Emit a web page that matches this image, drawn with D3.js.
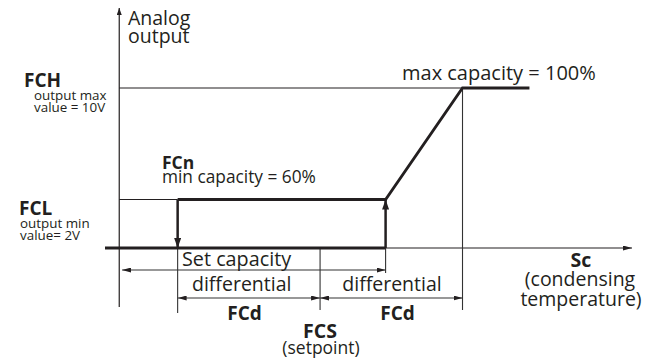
<!DOCTYPE html>
<html><head><meta charset="utf-8">
<script src="https://cdn.jsdelivr.net/npm/d3@7"></script>
<style>
html,body{margin:0;padding:0;background:#fff;}
text{font-family:"Open Sans",sans-serif;fill:#231f20;}
.b{font-weight:700;}
</style>
</head><body>
<svg id="c" width="656" height="364"></svg>
<script>
// ---- data (temperature in units of FCd relative to FCS, output in volts) ----
const keyNames = ["FCS-FCd", "FCS", "FCS+FCd"];
const keyT = [-1, 0, 1];
const switchOnT = 0.46;             // where output jumps up to FCL
const upperT = [-1, 0.46, 1, 1.47];  // upper branch (min capacity -> ramp -> max)
const upperV = [2, 2, 10, 10];
const lowerT = [-1.51, 0.46];        // lower (off) branch
const lowerV = [0, 0];
const levelNames = ["0", "FCL", "FCH"];
const levelV = [0, 2, 10];
const levelCapacity = ["", "min capacity = 60%", "max capacity = 100%"];

const ink = "#231f20", thin = "#333";
const svg = d3.select("#c");
const x = d3.scaleLinear().domain([-1.51, 2.19]).range([105, 632]);
const y = d3.scaleLinear().domain(levelV).range([248, 199.5, 88]);

const defs = svg.append("defs");
function marker(id, len, wid) {
  defs.append("marker").attr("id", id).attr("viewBox", `0 0 ${len} ${wid}`)
    .attr("refX", len).attr("refY", wid / 2).attr("markerWidth", len).attr("markerHeight", wid)
    .attr("markerUnits", "userSpaceOnUse").attr("orient", "auto-start-reverse")
    .append("path").attr("d", `M0,0L${len},${wid / 2}L0,${wid}Z`).attr("fill", ink);
}
marker("ax", 7, 5);
marker("dim", 9, 5);
marker("big", 10, 7);

const yAxisT = -1.41;
// y axis
svg.append("line").attr("x1", x(yAxisT)).attr("x2", x(yAxisT)).attr("y1", 307).attr("y2", 8)
  .attr("stroke", ink).attr("stroke-width", 1.2).attr("marker-end", "url(#ax)");
// x axis (thin part)
svg.append("line").attr("x1", x(switchOnT)).attr("x2", x(2.19)).attr("y1", y(0)).attr("y2", y(0))
  .attr("stroke", ink).attr("stroke-width", 1.1).attr("marker-end", "url(#dim)");

// reference level lines FCH, FCL
svg.append("line").attr("x1", x(yAxisT)).attr("x2", x(1)).attr("y1", y(10)).attr("y2", y(10))
  .attr("stroke", ink).attr("stroke-width", 1.2);
svg.append("line").attr("x1", x(yAxisT)).attr("x2", x(-1)).attr("y1", y(2)).attr("y2", y(2))
  .attr("stroke", ink).attr("stroke-width", 1.2);

// dimension verticals
const dims = [[-1, 313], [0, 310], [switchOnT, 273]];
dims.forEach(([t, yb]) => svg.append("line").attr("x1", x(t)).attr("x2", x(t))
  .attr("y1", y(0)).attr("y2", yb).attr("stroke", thin).attr("stroke-width", 1.1));
svg.append("line").attr("x1", x(1)).attr("x2", x(1)).attr("y1", y(10)).attr("y2", 310)
  .attr("stroke", thin).attr("stroke-width", 1.1);

// dimension arrows
function dimArrow(t1, t2, yy) {
  svg.append("line").attr("x1", x(t1)).attr("x2", x(t2)).attr("y1", yy).attr("y2", yy)
    .attr("stroke", thin).attr("stroke-width", 1.1)
    .attr("marker-start", "url(#dim)").attr("marker-end", "url(#dim)");
}
dimArrow(-1.39, switchOnT, 270);
dimArrow(keyT[0], keyT[1], 298);
dimArrow(keyT[1], keyT[2], 298);

// thick output curve
const line = d3.line().x(d => x(d[0])).y(d => y(d[1]));
svg.append("path").attr("d", line(lowerT.map((t, i) => [t, lowerV[i]])))
  .attr("fill", "none").attr("stroke", ink).attr("stroke-width", 2.8);
svg.append("path").attr("d", line(upperT.map((t, i) => [t, upperV[i]])))
  .attr("fill", "none").attr("stroke", ink).attr("stroke-width", 2.8).attr("stroke-linejoin", "miter");
// transitions
svg.append("line").attr("x1", x(-1)).attr("x2", x(-1)).attr("y1", y(2)).attr("y2", y(0))
  .attr("stroke", ink).attr("stroke-width", 2.5).attr("marker-end", "url(#big)");
svg.append("line").attr("x1", x(switchOnT)).attr("x2", x(switchOnT)).attr("y1", y(0)).attr("y2", y(2))
  .attr("stroke", ink).attr("stroke-width", 2.5).attr("marker-end", "url(#big)");

// ---- texts ----
function txt(s, xx, yy, size, opts = {}) {
  return svg.append("text").attr("x", xx).attr("y", yy).attr("font-size", size)
    .attr("text-anchor", opts.anchor || "start").classed("b", !!opts.bold).text(s);
}
txt("Analog", 128, 25, 19.5);
txt("output", 128, 43, 19.5);
txt(levelNames[2], 24, y(10) - 1, 19, { bold: true });
txt("output max", 34, 99.5, 13.4);
txt("value = 10V", 34, 111.5, 13.4);
txt(levelCapacity[2], 402, 80, 20);
txt("FCn", 162, 168.5, 17.5, { bold: true });
txt(levelCapacity[1], 162, 182.5, 17.3);
txt(levelNames[1], 19, 215, 19, { bold: true });
txt("output min", 20, 228, 13.4);
txt("value= 2V", 20, 240, 13.4);
txt("Set capacity", 182, 266, 19.8);
txt("differential", 192, 291, 19.5);
txt("differential", 392, 291, 19.5, { anchor: "middle" });
txt("FCd", 244.5, 320, 19, { bold: true, anchor: "middle" });
txt("FCd", 397.5, 320, 19, { bold: true, anchor: "middle" });
txt("FCS", 320, 338, 19.5, { bold: true, anchor: "middle" });
txt("(setpoint)", 321, 354, 17.5, { anchor: "middle" });
txt("Sc", 581, 267, 19.5, { bold: true, anchor: "middle" });
txt("(condensing", 580, 286, 19.5, { anchor: "middle" });
txt("temperature)", 581, 306, 19.5, { anchor: "middle" });
</script>
</body></html>
